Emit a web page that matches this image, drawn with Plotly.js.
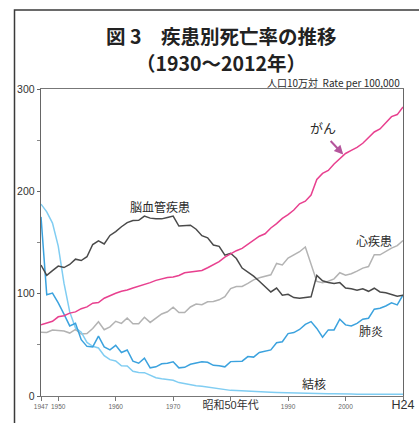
<!DOCTYPE html>
<html><head><meta charset="utf-8">
<script src="https://cdn.plot.ly/plotly-3.0.1.min.js"></script>
<style>html,body{margin:0;padding:0;background:#fff}</style>
</head><body><div id="chart" style="width:419px;height:423px"></div>
<script>
const years = [1947,1948,1949,1950,1951,1952,1953,1954,1955,1956,
  1957,1958,1959,1960,1961,1962,1963,1964,1965,1966,
  1967,1968,1969,1970,1971,1972,1973,1974,1975,1976,
  1977,1978,1979,1980,1981,1982,1983,1984,1985,1986,
  1987,1988,1989,1990,1991,1992,1993,1994,1995,1996,
  1997,1998,1999,2000,2001,2002,2003,2004,2005,2006,
  2007,2008,2009,2010];
const cancer = [69.5,71,73,77.4,78.5,81,82.2,85.3,87.1,90.7,
  91.3,95.5,98.2,100.4,102.3,103.5,105.5,107.2,108.4,110.8,
  113,114.8,115.9,116.3,117.7,120.4,121.2,122.2,122.6,125.3,
  128.4,131.3,135.7,139.1,142,144.2,148.3,152.5,156.1,158.5,
  164.2,168.4,173.6,177.2,181.7,187.8,190.4,196.4,211.6,217.5,
  220.4,226.7,231.6,237,240,243,247,253,258,261,
  267,273,275,282.5];
const cerebro = [128,118,122.5,127,125.5,128.5,133.7,132.4,136.1,148,
  151.7,148.6,156.9,160.7,165.4,169.4,171.4,171.7,175.8,173.8,
  173.1,173.1,174.4,175.8,166.1,166.7,166.9,163,156.7,154.5,
  147.6,146.2,137.7,139.5,134.3,125,121.2,117.2,112.2,106.9,
  101.7,105.5,98.5,99.4,96.2,95.6,96,96.9,117.9,112.6,
  111,110,110.8,105.5,104.7,103.4,104.7,102.3,105.3,101.7,
  100.8,99.5,97.5,98.5];
const heart = [62.3,62,64.5,64.2,63.5,61.5,65,60.5,61,66,
  72.5,64.8,67.6,73,71,76.2,70.5,70.5,77,71.9,
  75.7,80.2,82.3,86.7,81.5,81.5,87,89.8,89.2,92,
  92.3,94,97,105,107,107,110,113.5,115.5,117,
  118.4,129.5,128,134.8,138,141,145.6,128.6,112,110.8,
  112.2,114.5,120.5,118,119.5,122,125,126.5,138,138,
  141.5,144.5,147,152];
const pneumonia = [175,99,100.5,91,80,68.5,71,55,48.5,48,
  58.5,48,45,49.5,42.5,45,34,32,37,27.5,
  28.5,31.5,32,33.5,27.5,28,31,32.5,33.5,33,
  30,29.5,28.5,33.6,34,34,38.5,38,42.5,44,
  45,52,53,61,62,65,70,72.7,66,57.4,
  64.6,64.6,75,69.5,68.5,71,75,76,84.8,85.8,
  88,91,89,98.8];
const tb = [187.5,180,169,146.4,110.3,82.2,66.5,62.4,52.3,48.6,
  46.9,39.4,35.5,34.2,29.6,29.3,24.2,23,22.8,20.3,
  17.8,16.8,16.1,15.4,13.1,11.9,11,10.1,9.5,8.6,
  7.5,6.7,6,5.5,5.3,4.9,4.6,4.4,4.2,3.9,
  3.6,3.4,3.2,3,2.8,2.8,2.7,2.6,2.6,2.3,
  2.2,2.2,2.3,2.1,2,1.8,1.9,1.8,1.8,1.7,
  1.7,1.8,1.8,1.7];
const seriesNames = ['がん','脳血管疾患','心疾患','肺炎','結核'];
const xTickVals = [1947,1950,1960,1970,1980,1990,2000,2010];
const xTickText = ['1947','1950','1960','1970',
  '<span style="font-size:11px;fill:#333">昭和50年代</span>','1990','2000',
  '<span style="font-size:12.5px;fill:#333">H24</span>'];
const yTickVals = [0,100,200,300];

const FONT = "'Liberation Sans', 'Noto Sans CJK JP', sans-serif";
const JFONT = "'Noto Sans CJK JP', 'Liberation Sans', sans-serif";

function tr(y, name, color, w) {
  return {x: years, y: y, name: name, type: 'scatter', mode: 'lines',
    line: {color: color, width: w || 1.5}, hoverinfo: 'skip'};
}
const data = [
  tr(heart, seriesNames[2], '#b3b3b3'),
  tr(tb, seriesNames[4], '#80cdf2'),
  tr(pneumonia, seriesNames[3], '#3ba2de'),
  tr(cerebro, seriesNames[1], '#4a4a4a'),
  tr(cancer, seriesNames[0], '#e8408f')
];

// pixel helpers for text placement (plot area 41..403 x 89..396)
const L = 41, R = 403, T = 89, B = 396;
const px = x => (x - L) / (R - L);
const py = y => (B - y) / (B - T);

function lab(text, x, y, size, font, extra) {
  return Object.assign({text: text, xref: 'paper', yref: 'paper', x: px(x), y: py(y),
    xanchor: 'center', yanchor: 'middle', showarrow: false,
    font: {family: font || JFONT, size: size, color: '#2b2b2b'}}, extra || {});
}
const titleFont = {family: JFONT, size: 19.5, color: '#222', weight: 600};

const layout = {
  width: 419, height: 423,
  margin: {l: L, r: 419 - R, t: T, b: 423 - B},
  paper_bgcolor: '#fff', plot_bgcolor: '#fff',
  showlegend: false,
  font: {family: FONT, color: '#333'},
  xaxis: {
    range: [1947, 2010], tickmode: 'array', tickvals: xTickVals, ticktext: xTickText,
    ticks: 'outside', ticklen: 4, tickcolor: '#777', tickwidth: 1,
    tickfont: {size: 6.5, color: '#666', family: FONT},
    showline: true, linecolor: '#777', linewidth: 1, mirror: true,
    showgrid: false, zeroline: false, fixedrange: true
  },
  yaxis: {
    range: [0, 300], tickmode: 'array', tickvals: yTickVals,
    ticks: 'outside', ticklen: 3, tickcolor: '#666', tickwidth: 1,
    minor: {tickvals: [50,150,250], ticks: 'outside', ticklen: 3, tickcolor: '#888', showgrid: false},
    tickfont: {size: 10.5, color: '#333', family: FONT},
    showline: true, linecolor: '#666', linewidth: 1.3, mirror: true,
    showgrid: false, zeroline: false, fixedrange: true
  },
  shapes: [
    {type: 'rect', xref: 'paper', yref: 'paper',
     x0: px(14.5), x1: px(470), y0: py(470), y1: py(10),
     line: {color: '#3a3a3a', width: 1.5}, fillcolor: 'rgba(0,0,0,0)', layer: 'below'}
  ],
  annotations: [
    lab('図 3　疾患別死亡率の推移', 221, 36, 20, JFONT, {font: titleFont}),
    lab('（1930～2012年）', 221, 63, 20, JFONT, {font: titleFont}),
    lab('人口10万対  Rate per 100,000', 402, 82, 10, JFONT, {xanchor: 'right'}),
    lab('がん', 323, 128, 13),
    lab('脳血管疾患', 160, 206, 12),
    lab('心疾患', 374, 240, 12),
    lab('肺炎', 371, 330, 12),
    lab('結核', 314, 383, 12),
    {text: '', x: 1999.6, y: 236, xref: 'x', yref: 'y', showarrow: true,
     ax: -14, ay: -15, arrowcolor: '#b5559c', arrowhead: 2, arrowsize: 0.9, arrowwidth: 2, standoff: 0}
  ]
};

Plotly.newPlot('chart', data, layout, {displayModeBar: false, staticPlot: true});
</script>
</body></html>
